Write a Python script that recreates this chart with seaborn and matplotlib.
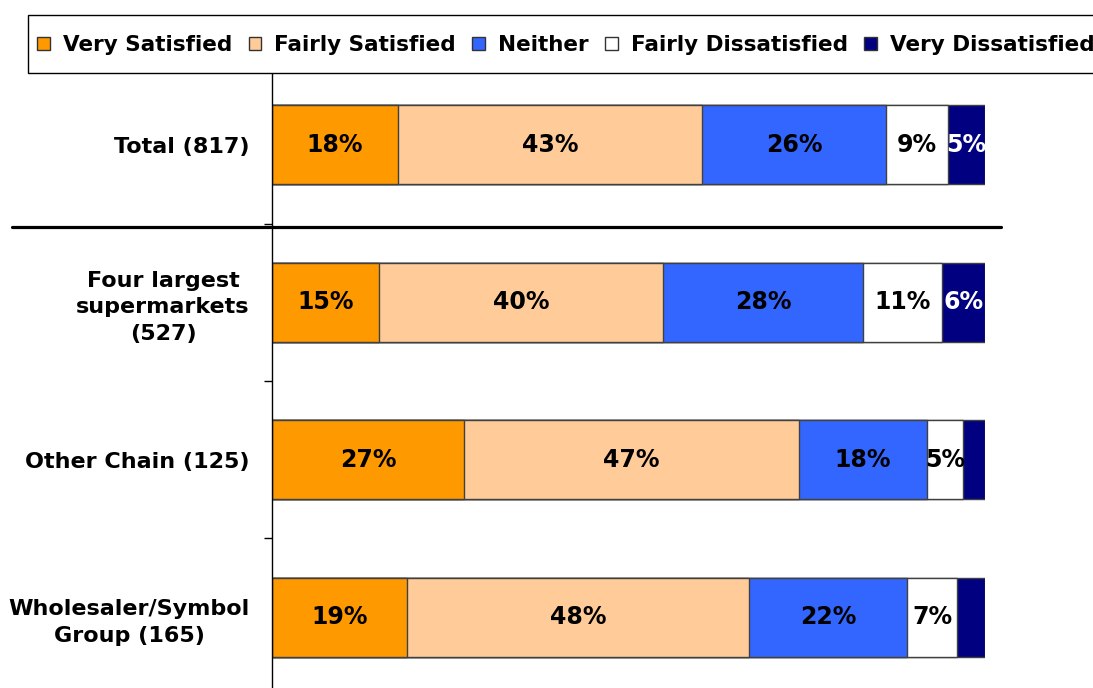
import numpy as np
import pandas as pd
import matplotlib
matplotlib.use('Agg')
import matplotlib.pyplot as plt
import matplotlib.transforms as mtransforms
from matplotlib.patches import Patch, Rectangle
import seaborn as sns

# data (share of each bar, %)
groups = ['Total (817)', 'Four largest\nsupermarkets\n(527)', 'Other Chain (125)',
          'Wholesaler/Symbol\nGroup (165)']
levels = ['Very Satisfied', 'Fairly Satisfied', 'Neither', 'Fairly Dissatisfied',
          'Very Dissatisfied']
very_sat = [17.7, 15.0, 26.9, 18.9]
fairly_sat = [42.6, 39.8, 47.0, 48.0]
neither = [25.8, 28.1, 18.0, 22.2]
fairly_dis = [8.7, 11.1, 5.0, 7.0]
very_dis = [5.2, 6.0, 3.1, 3.9]
colors = ['#FF9900', '#FFCC99', '#3366FF', '#FFFFFF', '#000080']
text_colors = ['black', 'black', 'black', 'black', 'white']

sns.set_style('white')
plt.rcParams['font.family'] = ['DejaVu Sans']
plt.rcParams['font.weight'] = 'bold'
plt.rcParams['text.color'] = 'black'
plt.rcParams['ytick.color'] = 'black'
plt.rcParams['ytick.labelcolor'] = 'black'

df = pd.DataFrame({'group': groups, levels[0]: very_sat, levels[1]: fairly_sat,
                   levels[2]: neither, levels[3]: fairly_dis, levels[4]: very_dis})
cum = df[levels].cumsum(axis=1)

fig = plt.figure(figsize=(10.93, 6.88), dpi=100)
ax = fig.add_axes([272 / 1093, 0.0, 713 / 1093, 1 - 74 / 688])

# stacked bars: draw cumulative totals from the longest down
for i in range(len(levels) - 1, -1, -1):
    sns.barplot(x=cum[levels[i]], y=df['group'], color=colors[i], orient='h',
                width=0.5, edgecolor='#404040', linewidth=1, saturation=1, ax=ax)

# value labels
for r in range(len(groups)):
    start = 0
    for i, lev in enumerate(levels):
        v = df[lev].iloc[r]
        if v >= 4.5:
            ax.text(start + v / 2, r, f'{round(v)}%', ha='center', va='center',
                    fontsize=17, fontweight='bold', color=text_colors[i], clip_on=True)
        start += v

ax.set_xlim(0, 100)
ax.set_ylim(3.45, -0.45)
ax.set_xlabel('')
ax.set_ylabel('')
ax.set_xticks([])
ax.set_yticks(range(len(groups)))
ax.set_yticklabels(groups, fontsize=16, fontweight='bold', multialignment='center',
                   linespacing=1.4, color='black')
ax.tick_params(axis='y', which='major', length=0, pad=16)
ax.set_yticks([0.5, 1.5, 2.5], minor=True)
ax.tick_params(axis='y', which='minor', length=6, width=1, color='black', direction='out', left=True)
for s in ['top', 'right', 'bottom']:
    ax.spines[s].set_visible(False)
ax.spines['left'].set_color('black')
ax.spines['left'].set_linewidth(1)

# thick separator under the total row
trans = mtransforms.blended_transform_factory(ax.transAxes, ax.transData)
ax.plot([-0.365, 1.0225], [0.52, 0.52], color='black', linewidth=2.3,
        transform=trans, clip_on=False)

# legend box
fig.add_artist(Rectangle((28 / 1093, 1 - 73 / 688), 1.0, 58 / 688, transform=fig.transFigure,
                         facecolor='white', edgecolor='black', linewidth=1, clip_on=False))
handles = [Patch(facecolor=c, edgecolor='#333333', linewidth=1) for c in colors]
leg = fig.legend(handles, levels, loc='center left', bbox_to_anchor=(33 / 1093, 1 - 45 / 688),
                 ncol=5, frameon=False, borderpad=0.2, borderaxespad=0,
                 handlelength=0.6, handleheight=0.6, handletextpad=0.6,
                 columnspacing=0.75,
                 prop={'size': 15.5, 'weight': 'bold'})

fig.savefig('out.png', dpi=100)
